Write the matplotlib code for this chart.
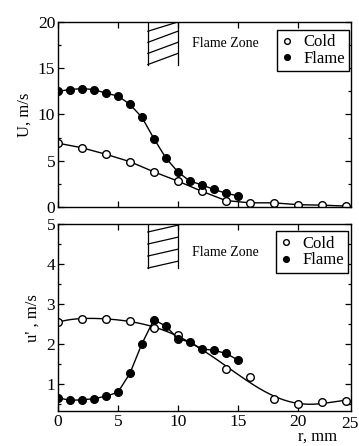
import numpy as np
import matplotlib
matplotlib.use("Agg")
import matplotlib.pyplot as plt
from matplotlib.ticker import MultipleLocator

plt.rcParams['font.family'] = ['Liberation Serif', 'DejaVu Serif']

# Mean velocity U (m/s)
r_flame = [0, 1, 2, 3, 4, 5, 6, 7, 8, 9, 10, 11, 12, 13, 14, 15]
U_flame = [12.5, 12.7, 12.8, 12.7, 12.3, 12.0, 11.1, 9.7, 7.4, 5.3, 3.8, 2.8, 2.4, 1.9, 1.5, 1.2]
r_cold = [0, 2, 4, 6, 8, 10, 12, 14, 16, 18, 20, 22, 24]
U_cold = [6.9, 6.4, 5.7, 4.9, 3.8, 2.8, 1.7, 0.7, 0.45, 0.45, 0.25, 0.2, 0.1]

# Fluctuating velocity u' (m/s)
up_flame = [0.66, 0.6, 0.61, 0.64, 0.70, 0.80, 1.27, 2.01, 2.61, 2.45, 2.14, 2.05, 1.88, 1.85, 1.77, 1.61]
r_cold2 = [0, 2, 4, 6, 8, 10, 14, 16, 18, 20, 22, 24]
up_cold = [2.55, 2.63, 2.63, 2.59, 2.40, 2.22, 1.38, 1.18, 0.64, 0.50, 0.55, 0.59]

# flame zone band (r, mm)
zone_r = [7.5, 10.0]
zone_lo = [15.4, 3.9]

fig = plt.figure(figsize=(3.59, 4.46), dpi=100)
ax1 = fig.add_axes([0.1616, 0.5359, 0.816, 0.4148])
ax2 = fig.add_axes([0.1616, 0.0774, 0.816, 0.4204])

mk = dict(markersize=5.5, markeredgewidth=1.0, color='black', linewidth=1.0)

# top panel
ax1.plot(r_cold, U_cold, 'o-', markerfacecolor='white', label='Cold', **mk)
ax1.plot(r_flame, U_flame, 'o-', markerfacecolor='black', label='Flame', **mk)
ax1.set_ylim(0, 20)
ax1.set_ylabel('U, m/s', fontsize=12, labelpad=4)
ax1.yaxis.set_major_locator(MultipleLocator(5))
ax1.yaxis.set_minor_locator(MultipleLocator(2.5))
ax1.tick_params(labelbottom=False)

# bottom panel: cold fitted with a smooth curve
cfit = np.polyfit(r_cold2, up_cold, 6)
xs = np.linspace(0, 24, 200)
ax2.plot(xs, np.polyval(cfit, xs), color='black', linewidth=1.0)
ax2.plot(r_cold2, up_cold, 'o', markerfacecolor='white', label='Cold',
         markersize=5.5, markeredgewidth=1.0, color='black')
ax2.plot(r_flame, up_flame, 'o-', markerfacecolor='black', label='Flame', **mk)
ax2.set_ylim(0.32, 5)
ax2.set_ylabel("u' , m/s", fontsize=12, labelpad=4)
ax2.yaxis.set_major_locator(MultipleLocator(1))
ax2.yaxis.set_minor_locator(MultipleLocator(0.5))
fig.text(0.999, 0.0774 - 0.011, '25', fontsize=12.5, ha='right', va='top')
fig.text(0.94, 0.004, 'r, mm', fontsize=12, ha='right', va='bottom')

legpos = [(0.993, 0.955), (0.990, 0.96)]
slopes = [1.2, 0.17]
steps = [1.2, 0.3]
tops = [20, 5]
zone_text_y = [17.7, 4.3]
for i, ax in enumerate([ax1, ax2]):
    ax.set_xlim(0, 24.45)
    ax.xaxis.set_major_locator(MultipleLocator(5))
    ax.tick_params(which='both', direction='in', top=True, right=True,
                   labelsize=12.5, pad=2, width=0.9)
    ax.tick_params(which='major', length=4)
    ax.tick_params(which='minor', length=2.5)
    for s in ax.spines.values():
        s.set_linewidth(1.0)
    # hatched flame zone
    lo = zone_lo[i]
    for xx in zone_r:
        ax.plot([xx, xx], [lo, tops[i]], color='black', linewidth=0.9)
    y0 = lo
    while y0 < tops[i]:
        ax.plot(zone_r, [y0, min(y0 + slopes[i], tops[i])], color='black',
                linewidth=0.9)
        y0 += steps[i]
    ax.text(14.0, zone_text_y[i], 'Flame Zone', fontsize=10,
            ha='center', va='center')
    leg = ax.legend(loc='upper right', bbox_to_anchor=legpos[i], fontsize=12,
                    handlelength=0.7, handletextpad=0.6, borderpad=0.25,
                    labelspacing=0.05, markerscale=0.75, fancybox=False,
                    framealpha=1, borderaxespad=0)
    leg.get_frame().set_edgecolor('black')
    leg.get_frame().set_linewidth(1.0)
    for h in leg.legend_handles:
        h.set_linestyle('None')

fig.savefig('out.png', dpi=100)
